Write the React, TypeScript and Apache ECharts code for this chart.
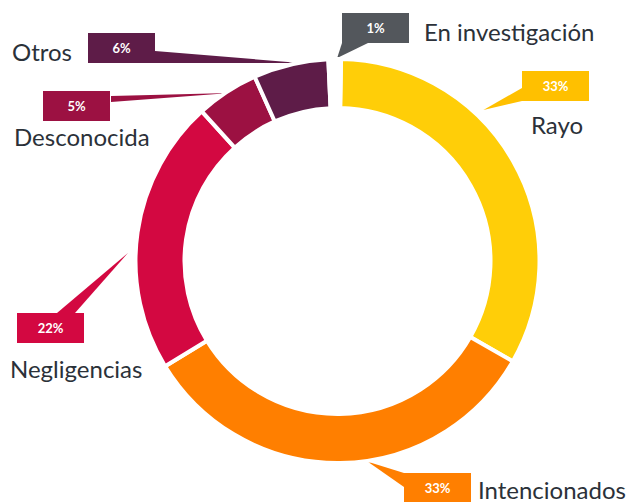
import React, { useEffect, useRef } from "react";
import * as echarts from "echarts";

const categories = ["Rayo", "Intencionados", "Negligencias", "Desconocida", "Otros", "En investigación"];
const values = [33, 33, 22, 5, 6, 1];
const sliceColors = ["#FFCE08", "#FF7F00", "#D30841", "#9C1142", "#5E1C48", "rgba(0,0,0,0)"];
const boxColors = ["#FFC000", "#FF7F00", "#D30841", "#9C1142", "#5E1C48", "#53575C"];

// layout (not data)
const CX = 337.5;
const CY = 261;
const BOX_W = 67;
const BOX_H = 30;
const boxLayout = [
  { x: 522, y: 71 },
  { x: 404, y: 473 },
  { x: 17, y: 313 },
  { x: 43, y: 91 },
  { x: 88, y: 33 },
  { x: 342, y: 13 },
];
const nameLayout: { x: number; y: number; align: "left" | "right" | "center" }[] = [
  { x: 557, y: 124, align: "center" },
  { x: 478, y: 489, align: "left" },
  { x: 10, y: 368, align: "left" },
  { x: 14, y: 136, align: "left" },
  { x: 72, y: 51, align: "right" },
  { x: 424, y: 31, align: "left" },
];
const wedgeLayout = [
  { a: 44, r: 210, base: [[522, 88], [522, 101]] },
  { a: 171.4, r: 203, base: [[404, 473], [404, 487]] },
  { a: 272.2, r: 209.7, base: [[57, 313], [75, 313]] },
  { a: 327.4, r: 199.5, base: [[111, 96], [111, 102]] },
  { a: 349.3, r: 201.5, base: [[155, 51], [155, 63]] },
  { a: 359.9, r: 203, base: [[342, 43], [368, 43]] },
];

const FONT = "Lato, 'Noto Sans', sans-serif";

export default function App() {
  const ref = useRef<HTMLDivElement>(null);
  useEffect(() => {
    if (!ref.current) return;
    const chart = echarts.init(ref.current, undefined, { renderer: "svg" });
    const data = categories.map((name, i) => ({
      name,
      value: values[i],
      itemStyle: { color: sliceColors[i] },
      label: { backgroundColor: boxColors[i] },
    }));
    const nameData = categories.map((name, i) => ({ name, value: values[i] }));
    const wedges = wedgeLayout.map((w, i) => {
      const rad = (w.a * Math.PI) / 180;
      const tip = [CX + w.r * Math.sin(rad), CY - w.r * Math.cos(rad)];
      return {
        type: "polygon",
        silent: true,
        z: 1,
        shape: { points: [tip, w.base[0], w.base[1]] },
        style: { fill: boxColors[i] },
      };
    });
    chart.setOption({
      animation: false,
      backgroundColor: "#ffffff",
      graphic: wedges,
      series: [
        {
          type: "pie",
          center: [CX, CY],
          radius: [153, 202],
          startAngle: 89,
          clockwise: true,
          silent: true,
          z: 2,
          itemStyle: { borderColor: "#ffffff", borderWidth: 4 },
          labelLine: { show: false },
          label: {
            show: true,
            formatter: "{c}%",
            color: "#ffffff",
            fontFamily: FONT,
            fontWeight: "bold",
            fontSize: 13,
            width: BOX_W,
            height: BOX_H,
            lineHeight: BOX_H,
            align: "center",
            verticalAlign: "middle",
            padding: 0,
            overflow: "none",
          },
          labelLayout: (p: any) => {
            const b = boxLayout[p.dataIndex];
            return { x: b.x + BOX_W / 2, y: b.y + BOX_H / 2, align: "center", verticalAlign: "middle" };
          },
          data,
        },
        {
          type: "pie",
          center: [CX, CY],
          radius: [153, 202],
          startAngle: 89,
          silent: true,
          z: 3,
          itemStyle: { color: "rgba(0,0,0,0)", borderWidth: 0 },
          labelLine: { show: false },
          label: {
            show: true,
            formatter: "{b}",
            color: "#2B3139",
            fontFamily: FONT,
            fontSize: 24,
            fontWeight: "normal",
            overflow: "none",
            width: 300,
          },
          labelLayout: (p: any) => {
            const n = nameLayout[p.dataIndex];
            return { x: n.x, y: n.y, align: n.align, verticalAlign: "middle" };
          },
          data: nameData,
        },
      ],
    });
    return () => chart.dispose();
  }, []);
  return (
    <div
      ref={ref}
      style={{ position: "fixed", left: 0, top: 0, width: 635, height: 502 }}
    />
  );
}
